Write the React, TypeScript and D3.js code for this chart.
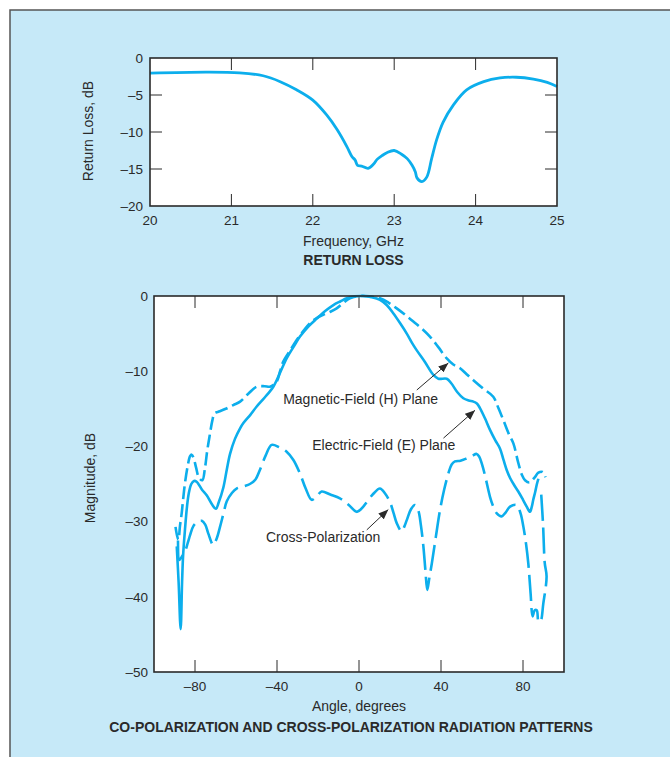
import React from 'react'
import * as d3 from 'd3'

// return loss curve (GHz, dB)
const rlFreq = [20, 20.7, 21.1, 21.39, 21.6, 21.8, 22.0, 22.17, 22.3, 22.42, 22.48, 22.52, 22.55, 22.6, 22.68, 22.75, 22.79, 22.85, 22.91, 23.0, 23.09, 23.16, 23.22, 23.26, 23.28, 23.34, 23.4, 23.46, 23.52, 23.6, 23.73, 23.89, 24.1, 24.3, 24.5, 24.71, 24.88, 25]
const rlDb = [-2.04, -1.9, -2.0, -2.4, -3.2, -4.3, -5.7, -7.7, -9.7, -12.0, -13.3, -13.8, -14.5, -14.6, -14.9, -14.3, -13.7, -13.2, -12.8, -12.5, -13.0, -13.6, -14.5, -15.4, -16.2, -16.7, -16.1, -13.6, -11.1, -8.7, -6.3, -4.3, -3.2, -2.7, -2.6, -2.85, -3.3, -3.85]
const rlFreqTicks = [20, 21, 22, 23, 24, 25]
const rlDbTicks = [0, -5, -10, -15, -20]

// electric-field (E) plane, solid
const eAngle = [-88.9, -88.0, -87.0, -86.3, -85.8, -84.9, -83.9, -83.0, -81.8, -80.5, -79.2, -76.5, -74.3, -71.5, -69.8, -68.5, -66.2, -64.5, -62.9, -60.5, -58, -56.4, -53, -49.9, -46, -41.8, -38.5, -35.3, -32, -28.8, -24.5, -20.6, -16.5, -12.5, -9, -6, -2, 2.1, 6, 10.2, 13.5, 16.7, 20, 23.3, 26, 28.1, 32, 36.3, 38.7, 42.8, 45, 48, 50.9, 53.5, 55.8, 57.5, 59, 61.5, 63.9, 66.5, 68.8, 70.5, 72, 73.7, 75.8, 77.7, 80, 81.8, 83.4, 84.3, 85, 86, 86.7, 87.5]
const eDb = [-33.3, -38, -44.3, -38, -34.5, -31.1, -28, -26.2, -25.0, -24.6, -24.7, -25.8, -26.5, -27.8, -28.3, -27.5, -25.5, -23.1, -21.0, -19.0, -17.6, -16.9, -15.8, -14.7, -13.5, -12.06, -10.2, -8.3, -6.8, -5.4, -4.0, -3.0, -2.0, -1.2, -0.7, -0.3, -0.05, 0, -0.15, -0.5, -1.2, -2.3, -3.6, -5.0, -6.3, -7.2, -8.7, -10.5, -11.0, -11.0, -11.6, -12.8, -13.6, -13.9, -14.05, -14.3, -14.9, -16.3, -17.8, -19.2, -20.3, -21.8, -23.1, -24.2, -25.2, -26.0, -27.1, -28.0, -28.7, -28.0, -27.1, -26, -25.1, -24.3]

// magnetic-field (H) plane, short dashes
const hAngle = [-89.5, -88.8, -88.1, -87.3, -86.5, -85.7, -84.9, -83.5, -82.4, -81.6, -80.6, -79.5, -78, -76.4, -75.2, -74, -72.8, -71.5, -70.5, -68.6, -65, -61.3, -58, -54, -49.9, -46, -43.4, -40.2, -38.5, -36.9, -33.5, -30.4, -27, -23.9, -20.5, -17.4, -14, -10.9, -7.5, -4.4, 0.5, 5, 10.2, 14.5, 18.4, 22.5, 26.5, 30.5, 34.6, 38.7, 42.8, 46, 49.3, 52.5, 55.8, 60.5, 65.5, 68, 70.4, 73, 75.3, 77.7, 79.5, 81, 83.2, 85.5, 87.5, 89.5, 91]
const hDb = [-30.7, -31.8, -32.4, -30.5, -28.9, -26.8, -24.9, -22.5, -21.3, -21.1, -21.6, -22.8, -24.2, -24.5, -23, -20.5, -18.5, -16.5, -15.6, -15.4, -15.0, -14.5, -14.05, -13.0, -12.06, -12.0, -12.06, -11.4, -10.0, -8.7, -7.2, -5.85, -4.6, -3.6, -2.9, -2.5, -2.1, -1.64, -0.9, -0.3, 0, -0.05, -0.3, -0.9, -1.64, -2.5, -3.4, -4.3, -5.4, -6.8, -8.3, -9.1, -9.6, -10.4, -11.2, -12.3, -13.4, -14.9, -16.5, -18.3, -19.6, -22.2, -23.8, -24.5, -24.8, -24.2, -23.5, -23.4, -24.1]

// cross-polarization, long dashes
const xAngle = [-88.3, -87.6, -86.5, -84.9, -83.5, -82.4, -80.8, -78.5, -76.7, -75, -73.5, -71.1, -69.5, -67.8, -66, -64.5, -62, -59.7, -56, -53.2, -50.5, -48.3, -45.5, -42.6, -39, -35.3, -32, -28.8, -26, -23.1, -20.5, -18.2, -14, -9.3, -5, -1.1, 1.5, 3.8, 7, 10.2, 12.8, 15.1, 16.8, 18.4, 20.8, 22.2, 23.3, 25.5, 27.3, 28.9, 30.2, 31.4, 32.4, 33.3, 34.3, 35.5, 37.5, 39.5, 41.5, 43.6, 45.2, 46.8, 49.5, 52.5, 55, 57.4, 58.7, 59.8, 61.5, 63.9, 65.5, 67.2, 69.6, 71.5, 73.7, 76.9, 78.8, 80.2, 81.5, 82.6, 83.7, 84.7, 85.7, 86.7, 87.6, 88.5, 89.9, 91.5, 90.6, 89.8, 88.8]
const xDb = [-32.5, -35.1, -34.7, -34.0, -32.8, -31.8, -30.6, -30.0, -29.9, -30.4, -31.6, -33.1, -32.3, -30.7, -28.8, -27.3, -26.2, -25.6, -25.3, -25.0, -24.4, -23.1, -21.2, -19.8, -20.1, -20.7, -21.8, -23.6, -25.6, -27.1, -26.6, -26.0, -26.4, -26.9, -27.8, -28.7, -28.2, -27.4, -26.3, -25.6, -26.3, -27.4, -28.8, -30.2, -31.3, -30.6, -29.8, -28.3, -27.8, -28.5, -30.5, -33.3, -36.5, -39.1, -37.5, -35.6, -32.0, -28.5, -25.8, -23.6, -22.4, -22.0, -21.9, -21.6, -21.3, -21.0, -21.4, -22.2, -23.9, -26.7, -28.0, -28.9, -29.3, -28.8, -28.0, -27.8, -28.9, -30.7, -33, -35.6, -39.5, -42.6, -41.8, -41.8, -43.3, -43.3, -40.9, -37.3, -35.5, -30.5, -26]

const angleTicks = [-80, -40, 0, 40, 80]
const magTicks = [0, -10, -20, -30, -40, -50]

const BLUE = '#0caeec'
const INK = '#2a2a2a'
const FONT = '"Liberation Sans", Arial, Helvetica, sans-serif'
const minus = (v: number) => (v < 0 ? '\u2013' + Math.abs(v) : String(v))

// top chart scales
const fx = d3.scaleLinear().domain([20, 25]).range([150, 557])
const fy = d3.scaleLinear().domain([-20, 0]).range([206, 58])
// bottom chart scales
const ax = d3.scaleLinear().domain([-100, 100]).range([154, 564])
const ay = d3.scaleLinear().domain([-50, 0]).range([672, 296])

const rlLine = d3.line<number>()
  .x((d, i) => fx(rlFreq[i]))
  .y(d => fy(d))
  .curve(d3.curveCatmullRom.alpha(0.5))

const patLine = (angles: number[]) => d3.line<number>()
  .x((d, i) => ax(angles[i]))
  .y(d => ay(d))
  .curve(d3.curveCatmullRom.alpha(0.5))

export default function App() {
  const tick = 12
  return (
    <svg width={670} height={757} style={{ position: 'absolute', left: 0, top: 0 }} fontFamily={FONT}>
      <defs>
        <marker id="arr" viewBox="0 0 10 8" refX={10} refY={4} markerWidth={10} markerHeight={8} markerUnits="userSpaceOnUse" orient="auto">
          <path d="M0,0 L10,4 L0,8 Z" fill={INK} />
        </marker>
      </defs>
      <rect x={10} y={10} width={700} height={800} fill="#c6e9f8" stroke="#555" strokeWidth={1.5} />

      {/* return loss chart */}
      <rect x={fx(20)} y={fy(0)} width={fx(25) - fx(20)} height={fy(-20) - fy(0)} fill="#fff" />
      {rlFreqTicks.slice(1, -1).map(t => (
        <g key={'ft' + t} stroke={INK} strokeWidth={1}>
          <line x1={fx(t)} x2={fx(t)} y1={fy(0)} y2={fy(0) + tick} />
          <line x1={fx(t)} x2={fx(t)} y1={fy(-20)} y2={fy(-20) - tick} />
        </g>
      ))}
      {rlDbTicks.slice(1, -1).map(t => (
        <g key={'dt' + t} stroke={INK} strokeWidth={1}>
          <line x1={fx(20)} x2={fx(20) + tick} y1={fy(t)} y2={fy(t)} />
          <line x1={fx(25)} x2={fx(25) - tick} y1={fy(t)} y2={fy(t)} />
        </g>
      ))}
      <path d={rlLine(rlDb) || ''} fill="none" stroke={BLUE} strokeWidth={2.8} strokeLinejoin="round" />
      <rect x={fx(20)} y={fy(0)} width={fx(25) - fx(20)} height={fy(-20) - fy(0)} fill="none" stroke={INK} strokeWidth={1.6} />
      {rlFreqTicks.map(t => (
        <text key={'fl' + t} x={fx(t)} y={225} textAnchor="middle" fontSize={13.5} fill={INK}>{t}</text>
      ))}
      {rlDbTicks.map(t => (
        <text key={'dl' + t} x={143} y={fy(t)} dy="0.35em" textAnchor="end" fontSize={13.5} fill={INK}>{minus(t)}</text>
      ))}
      <text x={(fx(20) + fx(25)) / 2} y={246} textAnchor="middle" fontSize={14} fill={INK}>Frequency, GHz</text>
      <text x={(fx(20) + fx(25)) / 2} y={265} textAnchor="middle" fontSize={14} fontWeight="bold" fill={INK}>RETURN LOSS</text>
      <text transform="translate(93,131) rotate(-90)" textAnchor="middle" fontSize={14} fill={INK}>Return Loss, dB</text>

      {/* radiation pattern chart */}
      <rect x={ax(-100)} y={ay(0)} width={ax(100) - ax(-100)} height={ay(-50) - ay(0)} fill="#fff" />
      {angleTicks.map(t => (
        <g key={'at' + t} stroke={INK} strokeWidth={1}>
          <line x1={ax(t)} x2={ax(t)} y1={ay(0)} y2={ay(0) + tick} />
          <line x1={ax(t)} x2={ax(t)} y1={ay(-50)} y2={ay(-50) - tick} />
        </g>
      ))}
      <path d={patLine(xAngle)(xDb) || ''} fill="none" stroke={BLUE} strokeWidth={2.6} strokeDasharray="26 7" />
      <path d={patLine(hAngle)(hDb) || ''} fill="none" stroke={BLUE} strokeWidth={2.6} strokeDasharray="13 5" />
      <path d={patLine(eAngle)(eDb) || ''} fill="none" stroke={BLUE} strokeWidth={2.6} strokeLinejoin="round" />
      <rect x={ax(-100)} y={ay(0)} width={ax(100) - ax(-100)} height={ay(-50) - ay(0)} fill="none" stroke={INK} strokeWidth={1.6} />

      {/* annotations */}
      <text x={ax(-37)} y={404} fontSize={14} fill={INK}>Magnetic-Field (H) Plane</text>
      <line x1={ax(28.2)} y1={ay(-12.5)} x2={ax(43.6)} y2={ay(-8.9)} stroke={INK} strokeWidth={1} markerEnd="url(#arr)" />
      <text x={ax(-22.8)} y={450} fontSize={14} fill={INK}>Electric-Field (E) Plane</text>
      <line x1={ax(41.2)} y1={ay(-18.9)} x2={ax(56.6)} y2={ay(-15.2)} stroke={INK} strokeWidth={1} markerEnd="url(#arr)" />
      <text x={ax(-45.4)} y={542} fontSize={14} fill={INK}>Cross-Polarization</text>
      <line x1={ax(3.8)} y1={ay(-31.1)} x2={ax(14.3)} y2={ay(-28.4)} stroke={INK} strokeWidth={1} markerEnd="url(#arr)" />

      {angleTicks.map(t => (
        <text key={'al' + t} x={ax(t)} y={691} textAnchor="middle" fontSize={13.5} fill={INK}>{minus(t)}</text>
      ))}
      {magTicks.map(t => (
        <text key={'ml' + t} x={148} y={ay(t)} dy="0.35em" textAnchor="end" fontSize={13.5} fill={INK}>{minus(t)}</text>
      ))}
      <text x={ax(0)} y={711} textAnchor="middle" fontSize={14} fill={INK}>Angle, degrees</text>
      <text x={351} y={732} textAnchor="middle" fontSize={14} fontWeight="bold" fill={INK}>CO-POLARIZATION AND CROSS-POLARIZATION RADIATION PATTERNS</text>
      <text transform="translate(95,478) rotate(-90)" textAnchor="middle" fontSize={14} fill={INK}>Magnitude, dB</text>
    </svg>
  )
}
